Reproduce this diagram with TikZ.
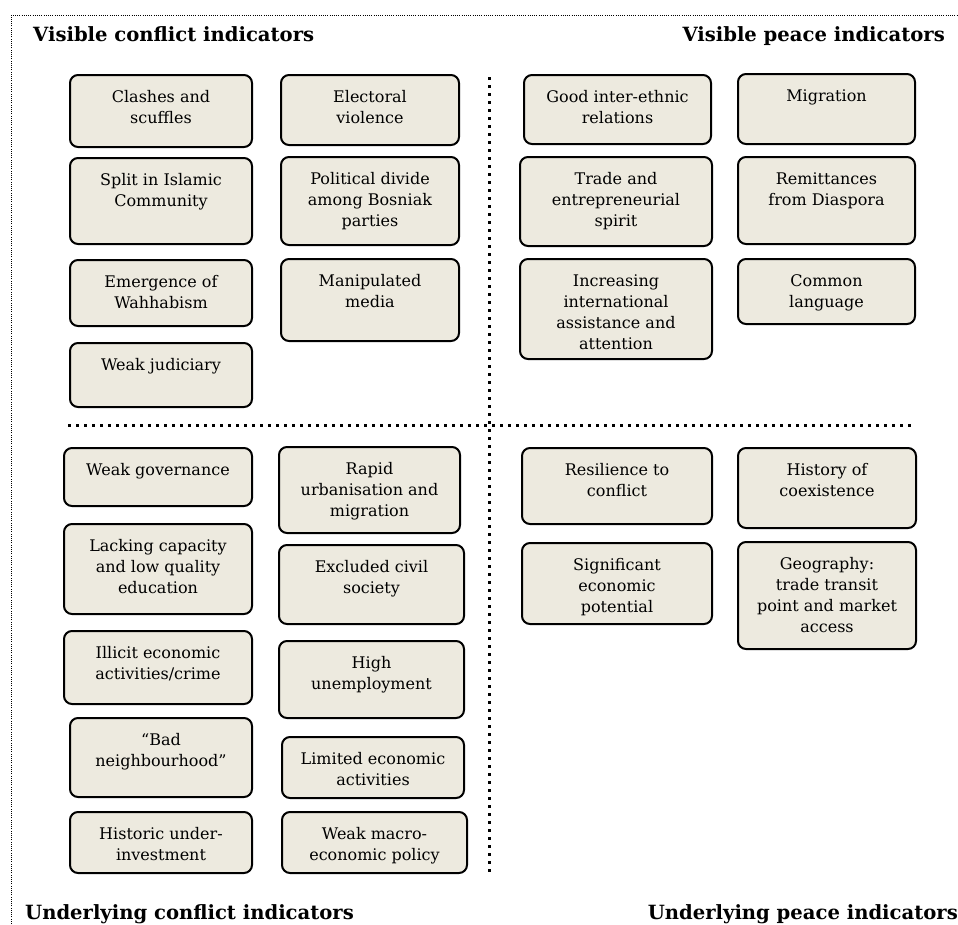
\documentclass[tikz,border=0pt]{standalone}
\usepackage{fontspec}
\setmainfont{DejaVu Serif}
\definecolor{boxfill}{RGB}{237,234,223}
\tikzset{
  ind/.style={draw=black, line width=2pt, rounded corners=8pt, fill=boxfill,
    inner sep=0pt, anchor=north west, font=\fontsize{16}{21}\selectfont},
  head/.style={font=\fontsize{19.6}{22}\selectfont\bfseries, inner sep=0pt},
  sepline/.style={line width=3pt, dash pattern=on 3pt off 5pt},
  frame/.style={line width=0.8pt, dash pattern=on 1pt off 1.2pt}
}
% text of a box, set from the top
\newcommand{\indtext}[3]{\parbox[t][#2pt][t]{#1pt}{\centering\vspace*{12.5pt}\strut#3\par}}

\begin{document}
\begin{tikzpicture}[x=1pt,y=-1pt]
   \useasboundingbox (0,0) rectangle (958,924);
   % Rahmen
   \draw[frame] (11,935) -- (11,15) -- (965,15);

   % Überschriften
   \node[head, anchor=base west] (vconf) at (33,41) {Visible conflict indicators};
   \node[head, anchor=base east] (vpeace) at (945,41) {Visible peace indicators};
   \node[head, anchor=base west] (uconf) at (25,919) {Underlying conflict indicators};
   \node[head, anchor=base east] (upeace) at (958,919) {Underlying peace indicators};

   % Trennlinien
   \coordinate (hl) at (68,425);
   \coordinate (hr) at (913,425);
   \coordinate (vt) at (489,77);
   \coordinate (vb) at (489,872);
   \draw[sepline] (hl) -- (hr);
   \draw[sepline] (vt) -- (vb);

   % sichtbare Konfliktindikatoren
   \node[ind] (clash) at (69,74) {\indtext{182}{72}{Clashes and\\scuffles}};
   \node[ind] (elect) at (280,74) {\indtext{178}{70}{Electoral\\violence}};
   \node[ind] (split) at (69,157) {\indtext{182}{86}{Split in Islamic\\Community}};
   \node[ind] (divide) at (280,156) {\indtext{178}{88}{Political divide\\among Bosniak\\parties}};
   \node[ind] (wahhab) at (69,259) {\indtext{182}{66}{Emergence of\\Wahhabism}};
   \node[ind] (media) at (280,258) {\indtext{178}{82}{Manipulated\\media}};
   \node[ind] (judic) at (69,342) {\indtext{182}{64}{Weak judiciary}};

   % sichtbare Friedensindikatoren
   \node[ind] (relat) at (523,74) {\indtext{187}{69}{Good inter-ethnic\\relations}};
   \node[ind] (migr) at (737,73) {\indtext{177}{70}{Migration}};
   \node[ind] (trade) at (519,156) {\indtext{192}{89}{Trade and\\entrepreneurial\\spirit}};
   \node[ind] (remit) at (737,156) {\indtext{177}{87}{Remittances\\from Diaspora}};
   \node[ind] (intl) at (519,258) {\indtext{192}{100}{Increasing\\international\\assistance and\\attention}};
   \node[ind] (lang) at (737,258) {\indtext{177}{65}{Common\\language}};

   % zugrunde liegende Konfliktindikatoren
   \node[ind] (govern) at (63,447) {\indtext{188}{58}{Weak governance}};
   \node[ind] (urban) at (278,446) {\indtext{181}{86}{Rapid\\urbanisation and\\migration}};
   \node[ind] (capac) at (63,523) {\indtext{188}{90}{Lacking capacity\\and low quality\\education}};
   \node[ind] (civil) at (278,544) {\indtext{185}{79}{Excluded civil\\society}};
   \node[ind] (crime) at (63,630) {\indtext{188}{73}{Illicit economic\\activities/crime}};
   \node[ind] (unemp) at (278,640) {\indtext{185}{77}{High\\unemployment}};
   \node[ind] (neigh) at (69,717) {\indtext{182}{79}{“Bad\\neighbourhood”}};
   \node[ind] (limit) at (281,736) {\indtext{182}{61}{Limited economic\\activities}};
   \node[ind] (invest) at (69,811) {\indtext{182}{61}{Historic under-\\investment}};
   \node[ind] (macro) at (281,811) {\indtext{185}{61}{Weak macro-\\economic policy}};

   % zugrunde liegende Friedensindikatoren
   \node[ind] (resil) at (521,447) {\indtext{190}{76}{Resilience to\\conflict}};
   \node[ind] (coex) at (737,447) {\indtext{178}{80}{History of\\coexistence}};
   \node[ind] (potent) at (521,542) {\indtext{190}{81}{Significant\\economic\\potential}};
   \node[ind] (geog) at (737,541) {\indtext{178}{107}{Geography:\\trade transit\\point and market\\access}};
\end{tikzpicture}
\end{document}
